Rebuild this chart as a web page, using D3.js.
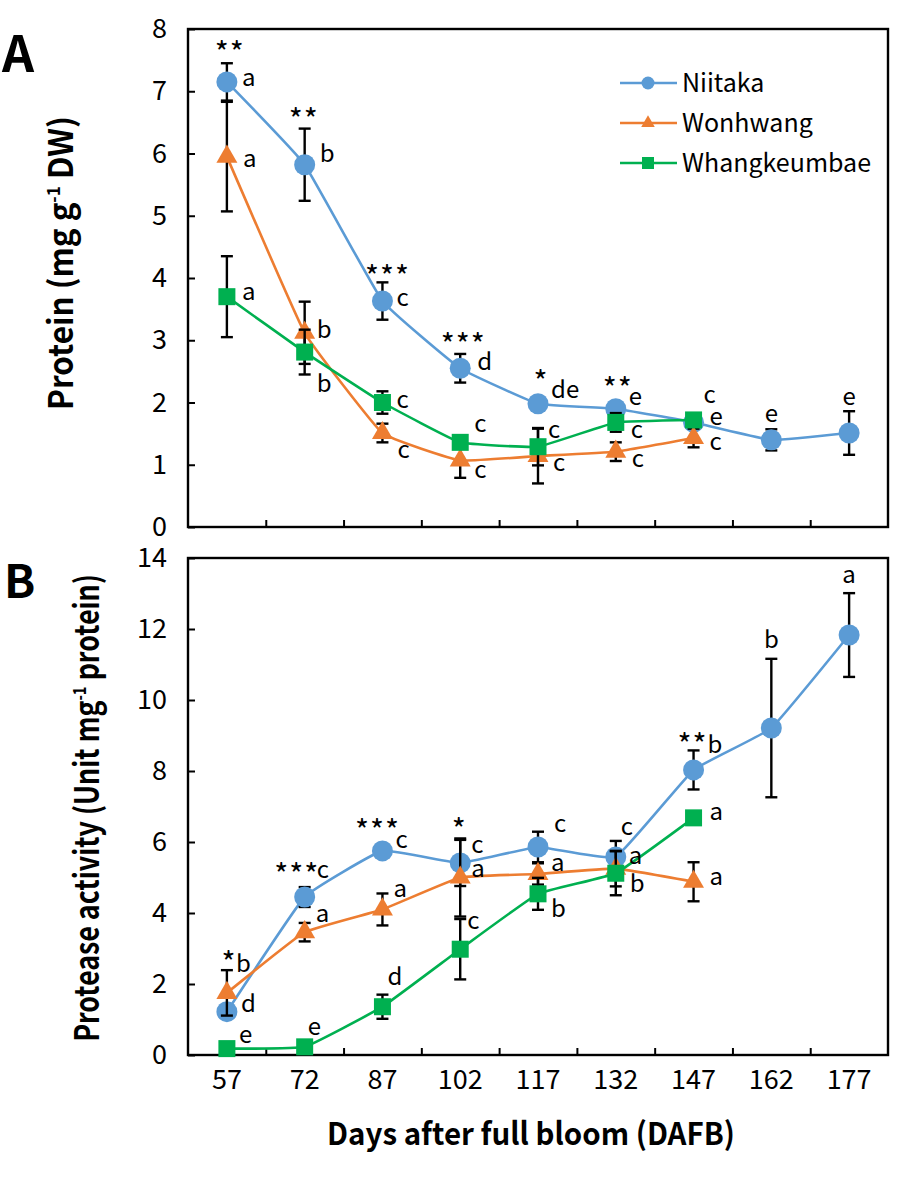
<!DOCTYPE html>
<html><head><meta charset="utf-8">
<script src="https://cdn.jsdelivr.net/npm/d3@7"></script>
<style>
html,body{margin:0;padding:0;background:#fff;}
svg{display:block;font-family:"Noto Sans CJK KR","Noto Sans",sans-serif;}
</style></head><body>
<svg id="chart" width="918" height="1178"></svg>
<script>
// ---------- DATA ----------
const days = ["57","72","87","102","117","132","147","162","177"];
const seriesNames = ["Niitaka","Wonhwang","Whangkeumbae"];
const seriesColors = ["#5B9BD5","#ED7D31","#00B050"];

// Panel A: protein (mg g-1 DW)
const proteinNiitaka     = [7.15, 5.82, 3.63, 2.55, 1.98, 1.90, 1.68, 1.40, 1.51];
const proteinNiitakaErr  = [0.30, 0.58, 0.30, 0.23, 0.05, 0.05, 0.05, 0.17, 0.35];
const proteinWonhwang    = [5.95, 3.12, 1.51, 1.07, 1.14, 1.21, 1.43, null, null];
const proteinWonhwangErr = [0.88, 0.50, 0.15, 0.28, 0.44, 0.15, 0.15, null, null];
const proteinWhang       = [3.70, 2.81, 2.00, 1.36, 1.29, 1.68, 1.72, null, null];
const proteinWhangErr    = [0.65, 0.36, 0.18, 0.05, 0.30, 0.15, 0.05, null, null];
const proteinLettersNiitaka  = ["a","b","c","d","de","e","e","e","e"];
const proteinLettersWonhwang = ["a","b","c","c","c","c","c"];
const proteinLettersWhang    = ["a","b","c","c","c","c","c"];
const proteinStars = ["**","**","***","***","*","**","","",""];

// Panel B: protease activity (Unit mg-1 protein)
const proteaseNiitaka     = [1.22, 4.45, 5.75, 5.41, 5.86, 5.58, 8.03, 9.21, 11.83];
const proteaseNiitakaErr  = [0.10, 0.28, 0.15, 0.65, 0.43, 0.45, 0.55, 1.95, 1.18];
const proteaseWonhwang    = [1.75, 3.46, 4.10, 5.00, 5.10, 5.25, 4.88, null, null];
const proteaseWonhwangErr = [0.64, 0.26, 0.45, 1.10, 0.30, 0.50, 0.55, null, null];
const proteaseWhang       = [0.18, 0.23, 1.36, 2.98, 4.54, 5.12, 6.68, null, null];
const proteaseWhangErr    = [0.05, 0.05, 0.34, 0.85, 0.45, 0.62, 0.18, null, null];
const proteaseLettersNiitaka  = ["d","c","c","c","c","c","b","b","a"];
const proteaseLettersWonhwang = ["b","a","a","a","a","a","a"];
const proteaseLettersWhang    = ["e","e","d","c","b","b","a"];
const proteaseStars = ["*","***","***","*","","","**","",""];

const yTicksA = [0,1,2,3,4,5,6,7,8];
const yTicksB = [0,2,4,6,8,10,12,14];

// ---------- LAYOUT (label offsets in px from the marker centre) ----------
const offA = [
  [[15,4],[15,-3],[14,5],[17,2],[13,-6],[13,-4],[16,3],[0,-18],[0,-28]],
  [[16,10],[12,5],[15,25],[14,18],[15,15],[16,15],[16,12]],
  [[15,3],[12,40],[14,5],[14,-10],[10,-9],[15,16],[10,-17]]
];
const starOffA = [[2,-34],[-2,-50],[4,-29],[2,-28],[2,-27],[1,-25]];
const offB = [
  [[14,0],[12,-19],[13,-3],[11,-10],[16,-15],[5,-22],[14,-17],[0,-80],[0,-52]],
  [[9,-21],[11,-10],[11,-12],[11,-1],[13,-3],[13,-5],[16,3]],
  [[12,-6],[3,-12],[5,-22],[7,-20],[13,23],[14,19],[16,2]]
];
const starOffB = [[1,-54],[-9,-27],[-6,-25],[-2,-38],[0,0],[0,0],[-2,-30]];

const svg = d3.select("#chart");
const left = 188, right = 888;
const x = d3.scaleBand().domain(days).range([left, right]).padding(0);
const xc = d => x(d) + x.bandwidth()/2;
const xLin = d3.scaleLinear().domain([0, days.length]).range([left, right]);
const tickFont = '"Noto Sans CJK KR",sans-serif';

function drawPanel(cfg){
  const g = svg.append("g");
  const y = d3.scaleLinear().domain(cfg.domain).range([cfg.bottom, cfg.top]);
  g.append("rect").attr("x", left).attr("y", cfg.top)
    .attr("width", right-left).attr("height", cfg.bottom-cfg.top)
    .attr("fill","none").attr("stroke","#000").attr("stroke-width",2.4);
  const ya = g.append("g").attr("transform",`translate(${left},0)`)
    .call(d3.axisLeft(y).tickValues(cfg.yTicks).tickSize(-7).tickPadding(21).tickFormat(d3.format("d")));
  ya.select(".domain").remove();
  ya.selectAll("line").attr("stroke","#000").attr("stroke-width",2);
  ya.selectAll("text").attr("font-size",27).attr("fill","#000").attr("font-family",tickFont);
  const xt = g.append("g").attr("transform",`translate(0,${cfg.bottom})`)
    .call(d3.axisBottom(xLin).tickValues(d3.range(1,days.length)).tickSize(-7).tickFormat(""));
  xt.select(".domain").remove();
  xt.selectAll("line").attr("stroke","#000").attr("stroke-width",2);
  if (cfg.xLabels){
    const xl = g.append("g").attr("transform",`translate(0,${cfg.bottom})`)
      .call(d3.axisBottom(x).tickSize(0).tickPadding(15));
    xl.select(".domain").remove();
    xl.selectAll("text").attr("font-size",27).attr("fill","#000").attr("font-family",tickFont);
  }
  const line = d3.line().defined(d => d.v != null)
    .x(d => xc(d.day)).y(d => y(d.v)).curve(d3.curveCardinal.tension(0.7));
  cfg.series.forEach((s, si) => {
    const pts = days.map((day,i) => ({day, v: s.values[i], e: s.err[i]})).filter(p => p.v != null);
    const sg = g.append("g");
    sg.append("path").datum(pts).attr("d", line).attr("fill","none")
      .attr("stroke", seriesColors[si]).attr("stroke-width", 2.6);
    const eb = sg.selectAll(".eb").data(pts).join("g");
    eb.append("line").attr("x1", d=>xc(d.day)).attr("x2", d=>xc(d.day))
      .attr("y1", d=>y(d.v-d.e)).attr("y2", d=>y(d.v+d.e));
    eb.append("line").attr("x1", d=>xc(d.day)-6).attr("x2", d=>xc(d.day)+6)
      .attr("y1", d=>y(d.v-d.e)).attr("y2", d=>y(d.v-d.e));
    eb.append("line").attr("x1", d=>xc(d.day)-6).attr("x2", d=>xc(d.day)+6)
      .attr("y1", d=>y(d.v+d.e)).attr("y2", d=>y(d.v+d.e));
    eb.selectAll("line").attr("stroke","#000").attr("stroke-width",2.4);
    const mk = sg.selectAll(".mk").data(pts).join("g")
      .attr("transform", d => `translate(${xc(d.day)},${y(d.v)})`);
    if (si === 0) mk.append("circle").attr("r", 10.5).attr("fill", seriesColors[si]);
    else if (si === 1) mk.append("path").attr("d", d3.symbol(d3.symbolTriangle, 190)()).attr("fill", seriesColors[si]);
    else mk.append("rect").attr("x",-8.5).attr("y",-8.5).attr("width",17).attr("height",17).attr("fill", seriesColors[si]);
  });
  cfg.series.forEach((s, si) => {
    s.letters.forEach((L, i) => {
      if (!L || s.values[i] == null) return;
      const o = cfg.offsets[si][i];
      g.append("text").attr("x", xc(days[i]) + o[0]).attr("y", y(s.values[i]) + o[1])
        .attr("text-anchor", o[0] === 0 ? "middle" : "start")
        .attr("font-size", 24).attr("fill","#000").text(L);
    });
  });
  cfg.stars.forEach((st, i) => {
    if (!st) return;
    const o = cfg.starOff[i];
    g.append("text").attr("x", xc(days[i]) + o[0] + 1).attr("y", y(cfg.series[0].values[i]) + o[1] + 16)
      .attr("text-anchor","middle").attr("font-size", 30).attr("letter-spacing", 1)
      .attr("fill","#000").text(st);
  });
  return g;
}

drawPanel({
  top: 29, bottom: 527, domain: [0,8], yTicks: yTicksA, xLabels: false,
  series: [
    {values: proteinNiitaka, err: proteinNiitakaErr, letters: proteinLettersNiitaka},
    {values: proteinWonhwang, err: proteinWonhwangErr, letters: proteinLettersWonhwang},
    {values: proteinWhang, err: proteinWhangErr, letters: proteinLettersWhang}
  ],
  offsets: offA, stars: proteinStars, starOff: starOffA
});
drawPanel({
  top: 558, bottom: 1055, domain: [0,14], yTicks: yTicksB, xLabels: true,
  series: [
    {values: proteaseNiitaka, err: proteaseNiitakaErr, letters: proteaseLettersNiitaka},
    {values: proteaseWonhwang, err: proteaseWonhwangErr, letters: proteaseLettersWonhwang},
    {values: proteaseWhang, err: proteaseWhangErr, letters: proteaseLettersWhang}
  ],
  offsets: offB, stars: proteaseStars, starOff: starOffB
});

// legend
const lg = svg.append("g");
seriesNames.forEach((n, i) => {
  const ly = 83 + i*40;
  lg.append("line").attr("x1",620).attr("x2",677).attr("y1",ly).attr("y2",ly)
    .attr("stroke", seriesColors[i]).attr("stroke-width",2.6);
  const m = lg.append("g").attr("transform",`translate(648,${ly})`);
  if (i===0) m.append("circle").attr("r",6.5).attr("fill",seriesColors[i]);
  else if (i===1) m.append("path").attr("d", d3.symbol(d3.symbolTriangle, 80)()).attr("fill",seriesColors[i]);
  else m.append("rect").attr("x",-6).attr("y",-6).attr("width",12).attr("height",12).attr("fill",seriesColors[i]);
  lg.append("text").attr("x",682).attr("y",ly+9).attr("font-size",25).attr("fill","#000").text(n);
});

// titles (fit to measured lengths)
function title(parts, size, cx, cy, len, rotate){
  const t = svg.append("text").attr("font-size", size).attr("font-weight","bold")
    .attr("text-anchor","middle").attr("fill","#000");
  parts.forEach(p => {
    const ts = t.append("tspan").text(p.t);
    if (p.sup) ts.attr("font-size", size*0.55).attr("dy", -size*0.38);
    else if (p.after) ts.attr("dy", size*0.38);
  });
  const w = t.node().getBBox().width;
  const s = len / w;
  t.attr("transform", `translate(${cx},${cy})` + (rotate ? " rotate(-90)" : "") + ` scale(${s},1)`);
}
title([{t:"Protein (mg g"},{t:"-1",sup:true},{t:" DW)",after:true}], 33, 73, 263, 294, true);
title([{t:"Protease activity (Unit mg"},{t:"-1",sup:true},{t:" protein)",after:true}], 33, 99, 808, 468, true);
title([{t:"Days after full bloom (DAFB)"}], 31, 531, 1145, 408, false);

svg.append("text").attr("x",2).attr("y",72).attr("font-size",50).attr("font-weight","bold").text("A");
svg.append("text").attr("x",4).attr("y",598).attr("font-size",46).attr("font-weight","bold").text("B");
</script>
</body></html>
